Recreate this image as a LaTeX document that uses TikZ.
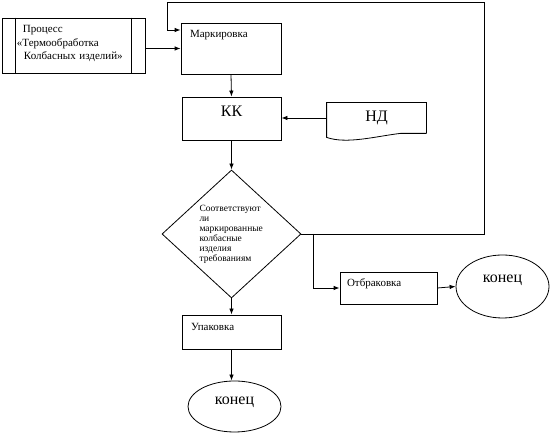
\documentclass[tikz,border=0pt]{standalone}
\usepackage{fontspec}
\setmainfont{Liberation Serif}
\usetikzlibrary{shapes.geometric,arrows.meta}
\begin{document}
\begin{tikzpicture}[
    x=1pt, y=1pt,
    line width=0.8pt,
    box/.style={rectangle, draw, inner ysep=0pt, align=left,
      font=\fontsize{11}{13.5}\selectfont},
    cond/.style={diamond, draw, inner sep=0pt, aspect=1.086,
      minimum width=139pt, minimum height=128pt, text width=64pt, align=left,
      font=\fontsize{9.5}{10}\selectfont},
    term/.style={ellipse, draw, inner sep=0pt, minimum width=93pt,
      font=\fontsize{16}{18}\selectfont, text height=7pt},
    arr/.style={-{Latex[length=6pt,width=4.5pt]}}
  ]
  \useasboundingbox (0,0) rectangle (551,435);
  % blocks
  \node[box, inner xsep=14pt, text width=115pt, text height=15pt, text depth=40pt] (proc) at (73.5,389.5)
    {\hspace*{7pt}Процесс\\\hspace*{1pt}«Термообработка\\\hspace*{8pt}Колбасных изделий»};
  \draw ([xshift=14pt]proc.north west) -- ([xshift=14pt]proc.south west);
  \draw ([xshift=-14pt]proc.north east) -- ([xshift=-14pt]proc.south east);
  \node[box, inner xsep=9pt, text width=82pt, text height=15pt, text depth=36pt] (mark) at (231,386.5) {Маркировка};
  \node[box, inner xsep=0pt, text width=99pt, align=center, text height=20pt, text depth=23pt,
    font=\fontsize{16}{18}\selectfont] (kk) at (231.5,316.5) {КК};
  \node[inner sep=0pt, minimum width=99pt, minimum height=30pt,
    font=\fontsize{16}{18}\selectfont] (nd) at (376.5,317) {НД};
  \draw (nd.south east) -- (nd.north east) -- (nd.north west) -- ([yshift=-4pt]nd.south west)
    .. controls +(20,-7) and +(-25,-3) .. ([xshift=-26pt]nd.south east) -- (nd.south east);
  \node[cond] (dia) at (231.5,201)
    {Соответствуют\\ли\\маркированные\\колбасные\\изделия\\требованиям};
  \node[box, inner xsep=9pt, text width=81pt, text height=16pt, text depth=18pt] (pack) at (231.5,103) {Упаковка};
  \node[term, minimum height=51pt, text depth=11pt] (end1) at (234.5,28.5) {конец};
  \node[box, inner xsep=7pt, text width=83pt, text height=15pt, text depth=17pt] (rej) at (388.5,147) {Отбраковка};
  \node[term, minimum height=63pt, text depth=15pt] (end2) at (502.5,148.5) {конец};
  % loop back and branch points
  \coordinate (lpA) at (484,433);
  \coordinate (lpB) at (167,433);
  \coordinate (lpC) at (167,405);
  \coordinate (br) at (313,201);
  % connectors
  \draw[arr] (proc.east |- mark.west) -- (mark.west);
  \draw[arr] (mark.south) -- (kk.north);
  \draw[arr] (nd.west) -- (nd.west -| kk.east);
  \draw[arr] (kk.south) -- (dia.north);
  \draw[arr] (dia.south) -- (pack.north);
  \draw[arr] (pack.south) -- (pack.south |- end1.north);
  \draw[arr] (dia.east) -- (lpA |- dia.east) -- (lpA) -- (lpB) -- (lpC) -- (mark.west |- lpC);
  \draw[arr] (br) |- (rej.west);
  \draw[arr] (rej.east) -- (end2.west);
\end{tikzpicture}
\end{document}
